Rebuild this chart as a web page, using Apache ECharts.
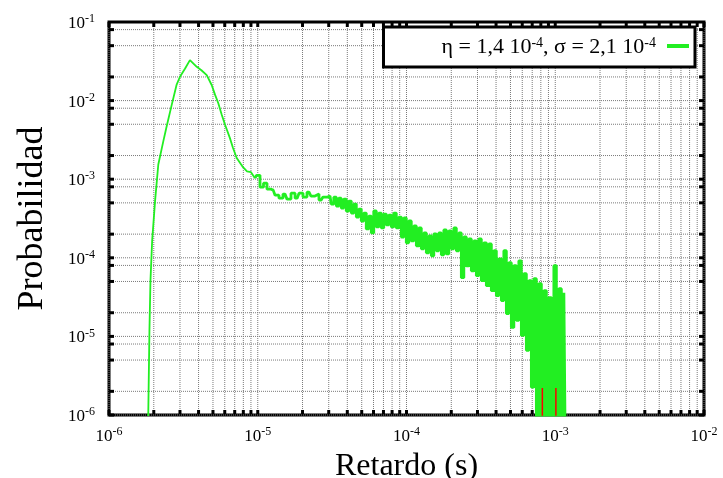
<!DOCTYPE html>
<html>
<head>
<meta charset="utf-8">
<script src="https://cdn.jsdelivr.net/npm/echarts@6/dist/echarts.min.js"></script>
<style>
  html, body { margin: 0; padding: 0; background: #fff; }
  #chart { width: 723px; height: 478px; }
</style>
</head>
<body>
<div id="chart"></div>
<script>
  // retardo (s) y probabilidad
  var delay = [
    1.83e-6, 1.836e-6, 1.87e-6, 1.90e-6, 1.95e-6, 2.04e-6, 2.145e-6, 2.317e-6, 2.44e-6, 2.64e-6,
    2.85e-6, 3.0e-6, 3.24e-6, 3.50e-6, 3.89e-6, 4.18e-6, 4.54e-6, 4.90e-6, 5.16e-6, 5.43e-6,
    5.72e-6, 6.02e-6, 6.5e-6, 6.82e-6, 7.22e-6, 7.96e-6, 8.47e-6, 9.01e-6, 9.58e-6, 1.004e-5,
    1.068e-5, 1.119e-5, 1.190e-5, 1.27e-5, 1.346e-5, 1.433e-5, 1.525e-5, 1.622e-5, 1.726e-5, 1.84e-5,
    1.953e-5, 2.078e-5, 2.211e-5, 2.352e-5, 2.502e-5, 2.662e-5, 2.832e-5,
    3.06e-5, 3.18e-5, 3.31e-5, 3.44e-5, 3.57e-5, 3.71e-5, 3.86e-5, 4.01e-5,
    4.17e-5, 4.34e-5, 4.51e-5, 4.69e-5, 4.87e-5, 5.06e-5, 5.26e-5, 5.47e-5,
    5.69e-5, 5.91e-5, 6.14e-5, 6.39e-5, 6.64e-5, 6.90e-5, 7.17e-5, 7.46e-5,
    7.75e-5, 8.06e-5, 8.37e-5, 8.71e-5, 9.05e-5, 9.41e-5, 9.78e-5, 1.016e-4,
    1.056e-4, 1.098e-4, 1.142e-4, 1.187e-4, 1.233e-4, 1.282e-4, 1.333e-4, 1.385e-4,
    1.440e-4, 1.497e-4, 1.556e-4, 1.617e-4, 1.681e-4, 1.748e-4, 1.817e-4, 1.888e-4,
    1.963e-4, 2.040e-4, 2.121e-4, 2.205e-4, 2.292e-4, 2.382e-4, 2.476e-4, 2.574e-4,
    2.675e-4, 2.781e-4, 2.891e-4, 3.005e-4, 3.123e-4, 3.247e-4, 3.375e-4, 3.509e-4,
    3.647e-4, 3.791e-4, 3.941e-4, 4.096e-4, 4.257e-4, 4.426e-4, 4.601e-4, 4.782e-4,
    4.971e-4, 5.167e-4, 5.371e-4, 5.584e-4, 5.803e-4, 6.033e-4, 6.271e-4, 6.519e-4,
    6.775e-4, 7.043e-4, 7.321e-4, 7.611e-4, 7.910e-4, 8.223e-4, 8.548e-4, 8.886e-4,
    9.235e-4, 9.60e-4, 9.98e-4, 1.0374e-3, 1.078e-3, 1.121e-3, 1.165e-3, 1.183e-3
  ];
  var prob = [
    1e-7, 1e-6, 1.19e-5, 5.12e-5, 1.64e-4, 5.27e-4, 1.54e-3, 3.03e-3, 4.69e-3, 8.83e-3,
    1.60e-2, 2.01e-2, 2.54e-2, 3.27e-2, 2.69e-2, 2.43e-2, 2.11e-2, 1.58e-2, 1.19e-2, 9.25e-3,
    6.65e-3, 4.97e-3, 3.33e-3, 2.49e-3, 1.86e-3, 1.42e-3, 1.26e-3, 1.23e-3, 1.03e-3, 1.12e-3,
    7.92e-4, 8.90e-4, 7.47e-4, 7.26e-4, 6.27e-4, 5.74e-4, 6.46e-4, 5.58e-4, 6.65e-4, 5.74e-4,
    6.65e-4, 5.92e-4, 6.84e-4, 6.10e-4, 6.46e-4, 5.42e-4, 5.92e-4,
    6.1e-4, 4.83e-4, 5.9e-4, 4.55e-4, 5.74e-4, 4.29e-4, 5.58e-4, 3.94e-4,
    5.27e-4, 3.71e-4, 4.83e-4, 3.30e-4, 4.17e-4, 2.94e-4, 3.71e-4, 2.33e-4,
    3.40e-4, 2.07e-4, 3.94e-4, 2.47e-4, 3.71e-4, 2.40e-4, 3.60e-4, 2.62e-4,
    3.50e-4, 2.47e-4, 3.71e-4, 2.40e-4, 3.30e-4, 1.84e-4, 3.21e-4, 1.55e-4,
    2.94e-4, 1.64e-4, 2.54e-4, 1.42e-4, 2.40e-4, 1.30e-4, 2.07e-4, 1.16e-4,
    1.90e-4, 1.06e-4, 2.01e-4, 1.23e-4, 2.07e-4, 1.09e-4, 2.26e-4, 1.12e-4,
    2.20e-4, 1.30e-4, 2.40e-4, 1.23e-4, 2.07e-4, 5.58e-5, 1.84e-4, 7.92e-5,
    1.74e-4, 6.84e-5, 1.64e-4, 5.92e-5, 1.74e-4, 5.12e-5, 1.55e-4, 4.42e-5,
    1.50e-4, 3.82e-5, 1.23e-4, 3.30e-5, 9.71e-5, 2.86e-5, 1.23e-4, 1.95e-5,
    8.65e-5, 1.30e-5, 7.92e-5, 1.60e-5, 9.16e-5, 1.03e-5, 6.27e-5, 6.65e-6,
    5.12e-5, 2.26e-6, 5.42e-5, 1e-7, 4.69e-5, 1e-7, 3.82e-5, 1e-7,
    3.12e-5, 1e-7, 7.92e-5, 1e-7, 4.05e-5, 1e-7, 3.6e-5, 1e-7
  ];
  var noisyFrom = 28; // a partir de aqui la curva es ruidosa
  // serie roja, casi oculta
  var redDelay = [8.19e-4, 1.01e-3];
  var redProb = [2.2e-6, 2.2e-6];

  var xDecades = [1e-6, 1e-5, 1e-4, 1e-3];
  var xMult = [1, 2, 3, 4, 5, 6, 7, 8, 9];
  var yDecades = [1e-6, 1e-5, 1e-4, 1e-3, 1e-2];
  var yMult = [1, 2, 5, 8];
  var xMin = 1e-6, xMax = 1e-2, yMin = 1e-6, yMax = 1e-1;
  var serieName = 'η = 1,4 10-4, σ = 2,1 10-4';

  var xGrid = [];
  xDecades.forEach(function (d) { xMult.forEach(function (m) { xGrid.push(d * m) }) });
  xGrid.push(xMax);
  var yGrid = [];
  yDecades.forEach(function (d) { yMult.forEach(function (m) { yGrid.push(d * m) }) });

  var greenData = delay.map(function (x, i) { return [x, prob[i]] });
  var redData = [];
  redDelay.forEach(function (x, i) {
    redData.push([x, 1e-7], [x, redProb[i]], ['-', '-']);
  });

  var serif = "'Liberation Serif', 'DejaVu Serif', serif";
  function powLabel(v) {
    return '{b|10}{s|' + Math.round(Math.log10(v)) + '}';
  }
  var labelRich = {
    b: { fontSize: 17, fontFamily: serif, color: '#000', verticalAlign: 'bottom', lineHeight: 20 },
    s: { fontSize: 12, fontFamily: serif, color: '#000', verticalAlign: 'bottom', lineHeight: 20, padding: [0, 0, 7, 0] }
  };
  var gridStyle = { stroke: '#7a7a7a', lineWidth: 1, lineDash: [1, 1] };

  var chart = echarts.init(document.getElementById('chart'));
  chart.setOption({
    backgroundColor: '#fff',
    animation: false,
    grid: {
      left: 109, right: 19, top: 22, bottom: 63, outerBoundsMode: 'none',
      show: true, borderColor: '#000', borderWidth: 3
    },
    legend: {
      data: [serieName],
      right: 28, top: 27,
      align: 'right',
      icon: 'rect',
      itemWidth: 22, itemHeight: 4,
      backgroundColor: '#fff',
      borderColor: '#000', borderWidth: 3, borderRadius: 0,
      padding: [9, 6, 9, 58],
      formatter: function () {
        return '{t|η = 1,4 10}{s|-4}{t|, σ = 2,1 10}{s|-4}';
      },
      textStyle: {
        fontFamily: serif, color: '#000', padding: [0, 6, 0, 0],
        rich: {
          t: { fontSize: 22, fontFamily: serif, color: '#000', verticalAlign: 'bottom', lineHeight: 24 },
          s: { fontSize: 14, fontFamily: serif, color: '#000', verticalAlign: 'bottom', lineHeight: 24, padding: [0, 0, 8, 0] }
        }
      }
    },
    xAxis: {
      type: 'log', logBase: 10, min: xMin, max: xMax,
      name: 'Retardo (s)', nameLocation: 'middle', nameGap: 36,
      nameTextStyle: { fontFamily: serif, fontSize: 32, color: '#000' },
      axisLine: { show: false }, axisTick: { show: false }, splitLine: { show: false },
      axisLabel: { margin: 10, formatter: powLabel, rich: labelRich }
    },
    yAxis: {
      type: 'log', logBase: 10, min: yMin, max: yMax,
      name: 'Probabilidad', nameLocation: 'middle', nameGap: 58,
      nameTextStyle: { fontFamily: serif, fontSize: 36, color: '#000' },
      axisLine: { show: false }, axisTick: { show: false }, splitLine: { show: false },
      axisLabel: { margin: 14, formatter: powLabel, rich: labelRich }
    },
    series: [
      {
        type: 'custom', silent: true, z: 1,
        data: xGrid.map(function (v) { return [v, yMin] }),
        renderItem: function (params, api) {
          var v = api.value(0);
          var b = api.coord([v, yMin]), t = api.coord([v, yMax]);
          return { type: 'group', children: [
            { type: 'line', shape: { x1: b[0], y1: b[1], x2: t[0], y2: t[1] }, style: gridStyle },
            { type: 'rect', shape: { x: b[0] - 1.5, y: b[1] - 5, width: 3, height: 5 }, style: { fill: '#000' } },
            { type: 'rect', shape: { x: t[0] - 1.5, y: t[1], width: 3, height: 5 }, style: { fill: '#000' } }
          ] };
        }
      },
      {
        type: 'custom', silent: true, z: 1,
        data: yGrid.map(function (v) { return [xMin, v] }),
        renderItem: function (params, api) {
          var v = api.value(1);
          var l = api.coord([xMin, v]), r = api.coord([xMax, v]);
          return { type: 'group', children: [
            { type: 'line', shape: { x1: l[0], y1: l[1], x2: r[0], y2: r[1] }, style: gridStyle },
            { type: 'rect', shape: { x: l[0], y: l[1] - 1.5, width: 5, height: 3 }, style: { fill: '#000' } },
            { type: 'rect', shape: { x: r[0] - 5, y: r[1] - 1.5, width: 5, height: 3 }, style: { fill: '#000' } }
          ] };
        }
      },
      {
        name: serieName, type: 'line', z: 3,
        data: greenData.slice(0, noisyFrom + 1),
        showSymbol: false, symbol: 'none', clip: true,
        itemStyle: { color: '#22ee22' },
        lineStyle: { color: '#22ee22', width: 1.8 }
      },
      {
        name: serieName, type: 'line', z: 3, step: 'middle',
        data: greenData.slice(noisyFrom),
        showSymbol: false, symbol: 'none', clip: true,
        itemStyle: { color: '#22ee22' },
        lineStyle: { color: '#22ee22', width: 2.8 }
      },
      {
        name: 'rojo', type: 'line', z: 4,
        data: redData,
        showSymbol: false, symbol: 'none', clip: true, connectNulls: false,
        itemStyle: { color: '#ff0000' },
        lineStyle: { color: '#ff0000', width: 1.5 }
      }
    ]
  });
</script>
</body>
</html>
